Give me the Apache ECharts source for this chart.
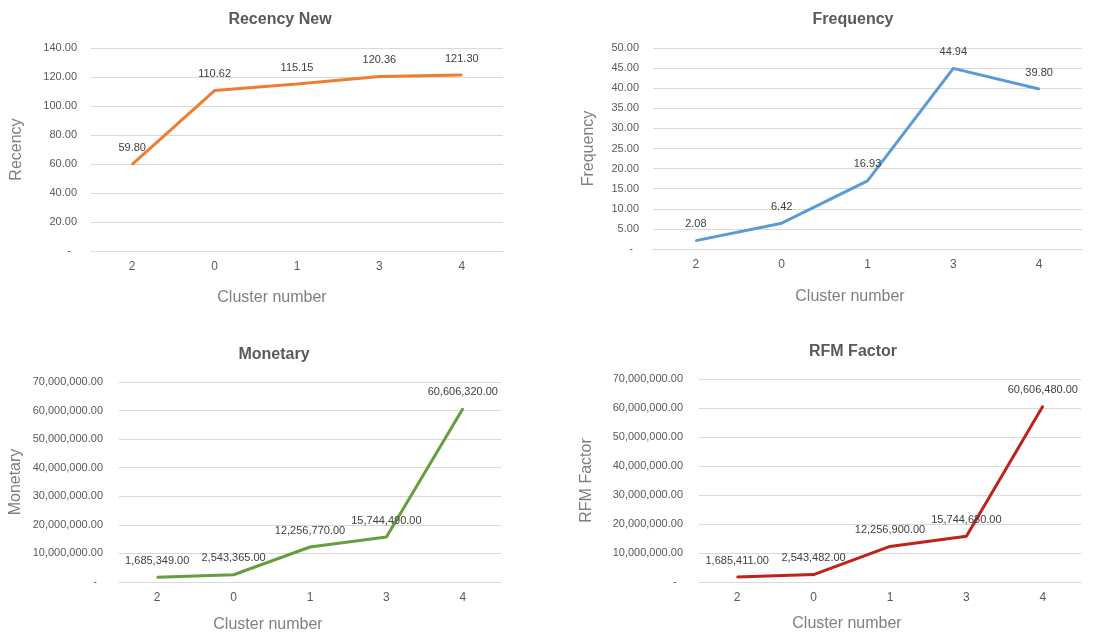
<!DOCTYPE html>
<html style="height: 100%">
<head>
    <meta charset="utf-8">
    <title>RFM clusters</title>
</head>
<body style="height: 100%; margin: 0; background: #fff">
    <div id="main" style="width: 1106px; height: 635px;"></div>

    <script src="https://cdn.jsdelivr.net/npm/echarts@6/dist/echarts.min.js"></script>

    <script type="text/javascript">
    // cluster order as shown on the x axis
    var clusters = ['2', '0', '1', '3', '4'];

    var recency = [59.80, 110.62, 115.15, 120.36, 121.30];
    var frequency = [2.08, 6.42, 16.93, 44.94, 39.80];
    var monetary = [1685349, 2543365, 12256770, 15744490, 60606320];
    var rfmFactor = [1685411, 2543482, 12256900, 15744680, 60606480];

    var titles = ['Recency New', 'Frequency', 'Monetary', 'RFM Factor'];
    var yNames = ['Recency', 'Frequency', 'Monetary', 'RFM Factor'];
    var yMax = [140, 50, 70000000, 70000000];
    var yStep = [20, 5, 10000000, 10000000];

    var font = 'Liberation Sans, Arial, sans-serif';

    function fmt(v) {
        if (v === 0) return '-  ';
        return v.toLocaleString('en-US', {minimumFractionDigits: 2, maximumFractionDigits: 2});
    }

    // panel layout (pixels)
    var grids = [
        {left: 91, top: 48, width: 412, height: 203},
        {left: 653, top: 48, width: 429, height: 201},
        {left: 119, top: 382, width: 382, height: 200},
        {left: 699, top: 379, width: 382, height: 203}
    ];
    var titlePos = [[275, 7], [848, 7], [269, 342], [848, 339]];
    var yNameGap = [66, 56, 95, 104];
    var xNameGap = [39, 40, 35, 34];
    var xNameShift = [50, 35, 84, 86];
    var labelMargin = [14, 14, 16, 16];
    var colors = ['#ED7D31', '#5B9BD5', '#649E3F', '#C0211C'];
    var values = [recency, frequency, monetary, rfmFactor];

    var option = {
        backgroundColor: '#fff',
        animation: false,
        title: [],
        grid: grids,
        xAxis: [],
        yAxis: [],
        series: []
    };

    for (var i = 0; i < 4; i++) {
        option.title.push({
            text: titles[i],
            left: titlePos[i][0],
            top: titlePos[i][1],
            textAlign: 'center',
            textStyle: {fontFamily: font, fontSize: 16, fontWeight: 'bold', color: '#595959'}
        });
        option.xAxis.push({
            type: 'category',
            gridIndex: i,
            data: clusters,
            boundaryGap: true,
            name: 'Cluster number',
            nameLocation: 'middle',
            nameGap: xNameGap[i],
            nameTextStyle: {fontFamily: font, fontSize: 16, color: '#7f7f7f', padding: [0, xNameShift[i], 0, 0]},
            axisLine: {lineStyle: {color: '#d9d9d9'}},
            axisTick: {show: false},
            axisLabel: {fontFamily: font, fontSize: 12, color: '#595959', margin: 10}
        });
        option.yAxis.push({
            type: 'value',
            gridIndex: i,
            min: 0,
            max: yMax[i],
            interval: yStep[i],
            name: yNames[i],
            nameLocation: 'middle',
            nameGap: yNameGap[i],
            nameTextStyle: {fontFamily: font, fontSize: 16, color: '#7f7f7f'},
            axisLine: {show: false},
            axisTick: {show: false},
            splitLine: {lineStyle: {color: '#d9d9d9'}},
            axisLabel: {fontFamily: font, fontSize: 11, color: '#595959', margin: labelMargin[i], formatter: fmt}
        });
        option.series.push({
            type: 'line',
            xAxisIndex: i,
            yAxisIndex: i,
            data: values[i],
            symbol: 'circle',
            symbolSize: 2,
            itemStyle: {color: colors[i]},
            lineStyle: {color: colors[i], width: 3},
            label: {
                show: true,
                position: 'top',
                distance: 10,
                fontFamily: font,
                fontSize: 11,
                color: '#404040',
                formatter: function (p) { return fmt(p.value); }
            }
        });
    }

    var myChart = echarts.init(document.getElementById('main'));
    myChart.setOption(option);
    </script>
</body>
</html>
